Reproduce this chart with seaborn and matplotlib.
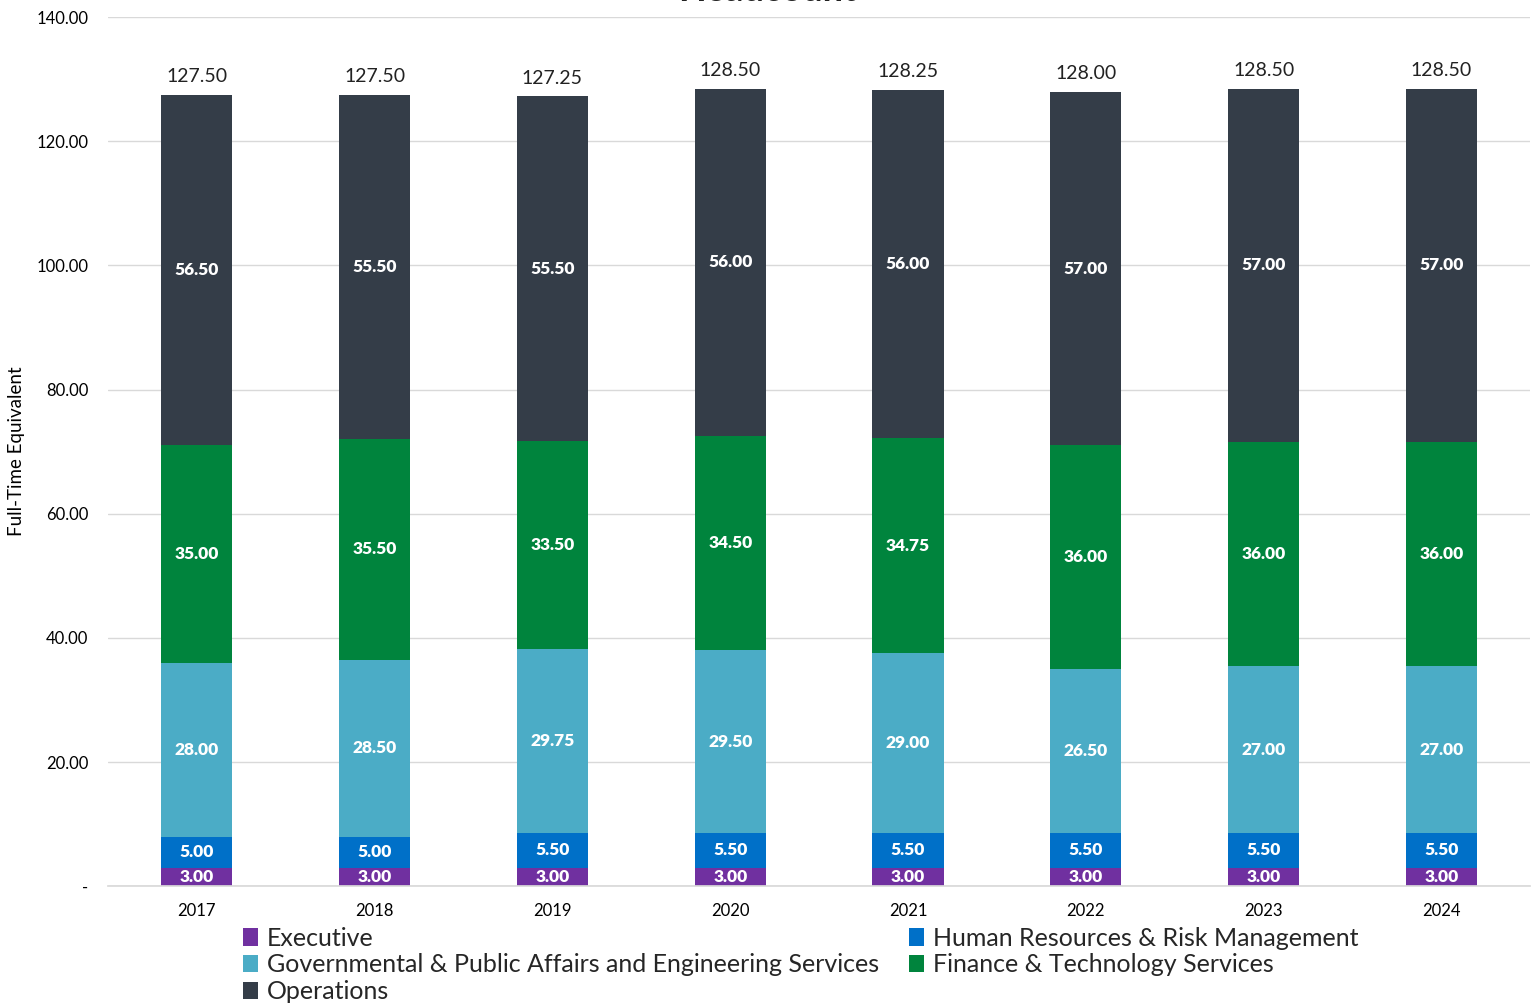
import numpy as np
import pandas as pd
import matplotlib
matplotlib.use("Agg")
import matplotlib.pyplot as plt
import seaborn as sns
from matplotlib.ticker import FuncFormatter

years = ["2017", "2018", "2019", "2020", "2021", "2022", "2023", "2024"]
executive = [3.00, 3.00, 3.00, 3.00, 3.00, 3.00, 3.00, 3.00]
hr_risk = [5.00, 5.00, 5.50, 5.50, 5.50, 5.50, 5.50, 5.50]
gov_eng = [28.00, 28.50, 29.75, 29.50, 29.00, 26.50, 27.00, 27.00]
finance = [35.00, 35.50, 33.50, 34.50, 34.75, 36.00, 36.00, 36.00]
operations = [56.50, 55.50, 55.50, 56.00, 56.00, 57.00, 57.00, 57.00]

series_names = ["Executive", "Human Resources & Risk Management",
                "Governmental & Public Affairs and Engineering Services",
                "Finance & Technology Services", "Operations"]
series_vals = [executive, hr_risk, gov_eng, finance, operations]
colors = ["#7030A0", "#0070C8", "#4BACC6", "#00843D", "#343D48"]

sns.set_theme(style="whitegrid")
plt.rcParams['font.family'] = ['Lato', 'DejaVu Sans']

fig = plt.figure(figsize=(15.38, 10.07), dpi=100)
ax = fig.add_axes([0.0702, 0.120, 0.9248, 0.863])

bottom = np.zeros(len(years))
containers = []
for name, vals, col in zip(series_names, series_vals, colors):
    df = pd.DataFrame({"year": years, "v": vals})
    sns.barplot(data=df, x="year", y="v", color=col, bottom=bottom.copy(),
                width=0.4, ax=ax, saturation=1, linewidth=0, errorbar=None)
    cont = ax.containers[-1]
    containers.append(cont)
    ax.bar_label(cont, labels=[f"{v:.2f}" for v in vals], label_type="center",
                 color="white", fontsize=12.5, fontweight="heavy")
    bottom = bottom + np.array(vals)

ax.bar_label(containers[-1], labels=[f"{t:.2f}" for t in bottom], padding=7,
             fontsize=14, color="#222222")

ax.set_ylim(0, 140)
ax.set_xlim(-0.5, 7.5)
ax.set_yticks(np.arange(0, 141, 20))
ax.yaxis.set_major_formatter(FuncFormatter(lambda v, p: "-" if v == 0 else f"{v:.2f}"))
ax.tick_params(axis="both", labelsize=12, colors="black", length=0)
ax.tick_params(axis="y", pad=14)
ax.tick_params(axis="x", pad=12)
ax.grid(axis="y", color="#D9D9D9", linewidth=1)
ax.grid(axis="x", visible=False)
for s in ["top", "right", "left"]:
    ax.spines[s].set_visible(False)
ax.spines["bottom"].set_color("#D9D9D9")
ax.set_xlabel("")
ax.set_ylabel("")
fig.text(0.011, 0.552, "Full-Time Equivalent", rotation=90, ha="center", va="center",
         fontsize=13.5, color="black")

order = [0, 2, 4, 1, 3]
handles = [containers[i].patches[0] for i in order]
labels = [series_names[i] for i in order]
ax.legend(handles, labels, loc="upper left", bbox_to_anchor=(0.088, -0.035),
          ncol=2, frameon=False, fontsize=18, handlelength=0.6, handleheight=0.7,
          handletextpad=0.35, labelspacing=0.15, columnspacing=1.2, borderaxespad=0)

fig.text(0.4987, 0.999, "Headcount", ha="center", va="baseline", fontsize=26,
         fontweight="bold", color="#222222")

fig.savefig("out.png", dpi=100)
